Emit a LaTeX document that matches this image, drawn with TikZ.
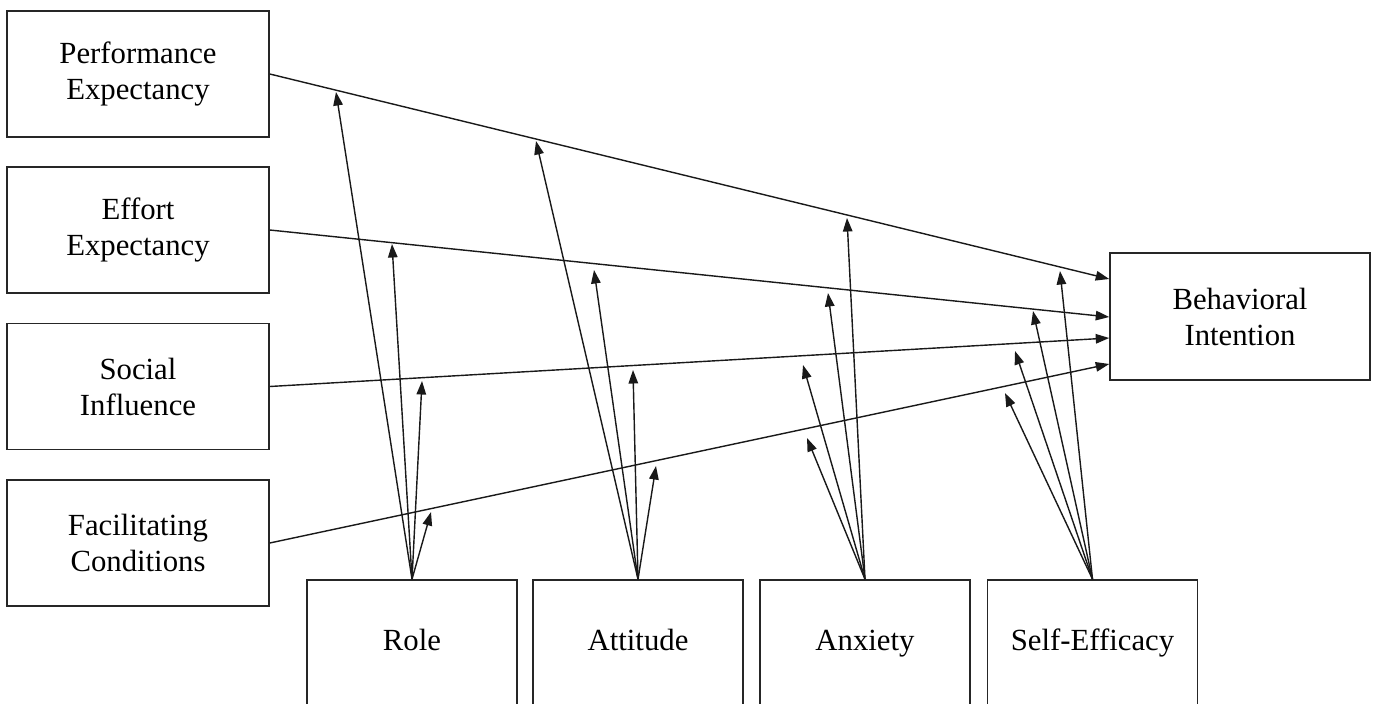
\documentclass[tikz,border=0pt]{standalone}
\usepackage{fontspec}
\setmainfont{Liberation Serif}
\usetikzlibrary{arrows.meta,calc}
\begin{document}
\begin{tikzpicture}[x=0.02cm,y=-0.02cm,
  box/.style={draw=black!85,line width=0.9pt,align=center,inner sep=0pt,
    font=\fontsize{17.5}{20.5}\selectfont},
  lbox/.style={box,minimum width=5.24cm,minimum height=2.52cm},
  bbox/.style={box,minimum width=4.2cm,minimum height=2.52cm,text height=12pt,text depth=4pt},
  link/.style={draw=black!90,line width=0.8pt,-{Triangle[length=0.27cm,width=0.19cm]}}]
\useasboundingbox (0,0) rectangle (1375,703);
\clip (0,0) rectangle (1375,703);
% left boxes
\node[lbox] (pe) at (138,74) {Performance\\Expectancy};
\node[lbox] (ee) at (138,230) {Effort\\Expectancy};
\node[lbox] (si) at (138,386.5) {Social\\Influence};
\node[lbox] (fc) at (138,543) {Facilitating\\Conditions};
% outcome
\node[box,minimum width=5.2cm,minimum height=2.54cm] (bi) at (1240,316.5) {Behavioral\\Intention};
% moderators
\node[bbox] (role) at (412,643) {Role};
\node[bbox] (att) at (638,643) {Attitude};
\node[bbox] (anx) at (865,643) {Anxiety};
\node[bbox] (se) at (1092.5,643) {Self-Efficacy};
% main paths
\draw[link] (pe.east) -- ($(bi.west)+(0,-37.5)$);
\draw[link] (ee.east) -- ($(bi.west)+(0,0.5)$);
\draw[link] (si.east) -- ($(bi.west)+(0,21.5)$);
\draw[link] (fc.east) -- ($(bi.west)+(0,47.5)$);
% moderator tips
\coordinate (r1) at (336,92);
\coordinate (r2) at (392,244);
\coordinate (r3) at (422,381);
\coordinate (r4) at (431,512);
\coordinate (a1) at (536,141);
\coordinate (a2) at (594,270);
\coordinate (a3) at (633,370);
\coordinate (a4) at (656,466);
\coordinate (x1) at (847,218);
\coordinate (x2) at (828,293);
\coordinate (x3) at (803,365);
\coordinate (x4) at (807,438);
\coordinate (s1) at (1060,271);
\coordinate (s2) at (1033,311);
\coordinate (s3) at (1015,351);
\coordinate (s4) at (1005,393);
\foreach \t in {r1,r2,r3,r4} \draw[link] (role.north) -- (\t);
\foreach \t in {a1,a2,a3,a4} \draw[link] (att.north) -- (\t);
\foreach \t in {x1,x2,x3,x4} \draw[link] (anx.north) -- (\t);
\foreach \t in {s1,s2,s3,s4} \draw[link] (se.north) -- (\t);
\end{tikzpicture}
\end{document}
